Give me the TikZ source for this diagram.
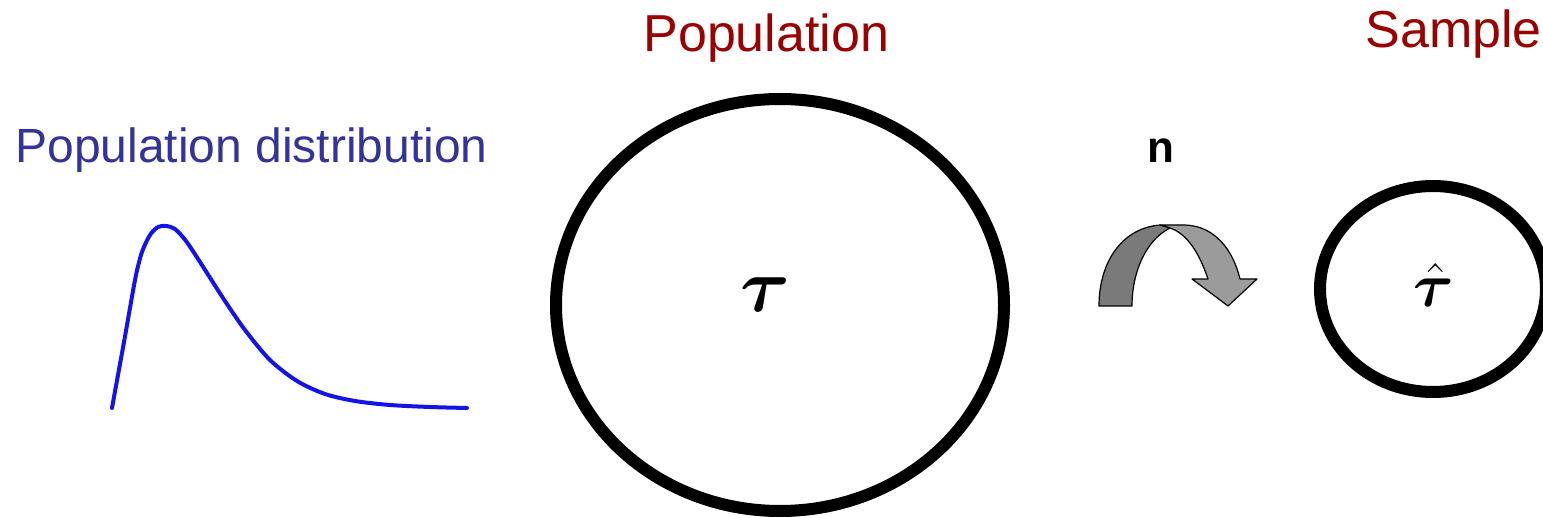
\RequirePackage{fix-cm}
\documentclass[tikz,border=0pt]{standalone}
\usepackage{bm}
\usepackage{fontspec}
\setmainfont{Liberation Sans}
\definecolor{titlered}{RGB}{153,0,0}
\definecolor{distblue}{RGB}{51,51,153}
\definecolor{curveblue}{RGB}{20,20,230}
\definecolor{arrowdark}{RGB}{122,122,122}
\definecolor{arrowlight}{RGB}{155,155,155}
\tikzset{
  bigtitle/.style={text=titlered, font=\fontsize{26}{30}\selectfont, inner sep=0pt},
  disttitle/.style={text=distblue, font=\fontsize{24}{28}\selectfont, inner sep=0pt},
  setring/.style={draw=black, line width=6pt},
  arrowpart/.style={draw=black, line width=0.6pt, line join=round},
}
\begin{document}
\begin{tikzpicture}[x=0.5pt, y=-0.5pt]
\useasboundingbox (0,0) rectangle (1543,518);
% titles
\node[disttitle, anchor=base west] (disttext) at (15,163) {Population distribution};
\node[bigtitle, anchor=base west] (poptext) at (643,52) {Population};
\node[bigtitle, anchor=base west] (samptext) at (1365,48) {Sample};
% distribution curve
\draw[curveblue, line width=2pt, line cap=round, line join=round]
  plot[smooth, tension=0.5] coordinates {(112,408) (118,375) (124,342) (130,308) (136,275) (142,252) (150,235) (158,227) (166,226) (175,229) (186,241) (200,262) (223,298) (245,330) (270,360) (297,381) (325,394) (355,401) (390,405) (430,407) (467,408)};
% population set
\draw[setring] (780,305) ellipse [x radius=224, y radius=206];
\node[inner sep=0pt, font=\fontsize{38}{44}\selectfont] (tau) at (765,295) {$\bm{\tau}$};
% sample set
\draw[setring] (1433,289) ellipse [x radius=113, y radius=103];
\node[inner sep=0pt, font=\fontsize{31}{36}\selectfont] (tauhat) at (1434,285) {$\hat{\bm{\tau}}$};
% sample size label
\node[inner sep=0pt, font=\bfseries\fontsize{22}{26}\selectfont, anchor=base] (nlabel) at (1161,163) {n};
% curved arrow (light front part)
\filldraw[arrowpart, fill=arrowlight]
  (1160,225) -- (1185,225) .. controls (1215,226) and (1233,250) .. (1240,279)
  -- (1257,279) -- (1228,306) -- (1192,279) -- (1208,279)
  .. controls (1200,255) and (1188,234) .. (1170,228) -- cycle;
% curved arrow (dark back part)
\filldraw[arrowpart, fill=arrowdark]
  (1099,306) .. controls (1099,262) and (1122,228) .. (1160,225)
  -- (1170,228) .. controls (1146,240) and (1132,272) .. (1132,306) -- cycle;
\end{tikzpicture}
\end{document}
